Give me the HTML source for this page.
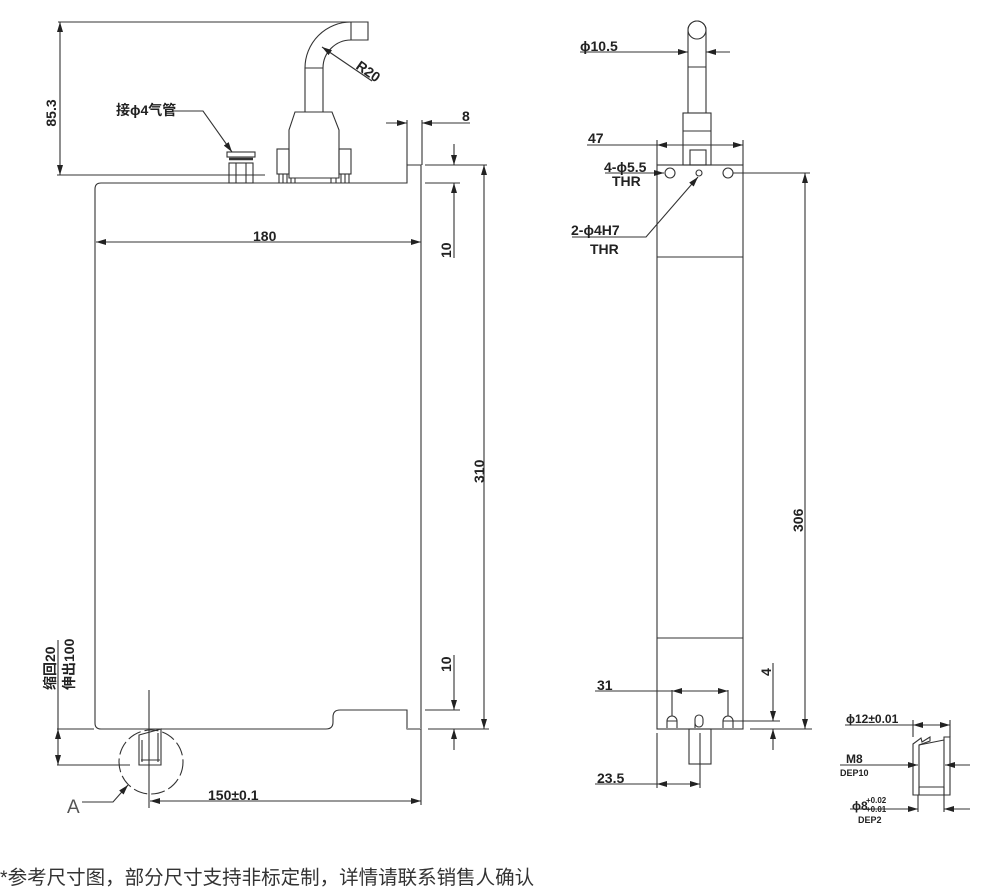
<!DOCTYPE html>
<html><head><meta charset="utf-8"><style>
html,body{margin:0;padding:0;background:#fff;}
svg{display:block;}
text{font-family:"Liberation Sans","Noto Sans CJK SC",sans-serif;fill:#222;}
</style></head><body>
<svg width="1000" height="887" viewBox="0 0 1000 887" xmlns="http://www.w3.org/2000/svg">
<defs>
<marker id="a" viewBox="0 0 10 6" refX="10" refY="3" markerWidth="11" markerHeight="6" markerUnits="userSpaceOnUse" orient="auto-start-reverse"><path d="M0,0 L10,3 L0,6 z" fill="#222"/></marker>
</defs>
<g fill="none" stroke="#333" stroke-width="1.1">
<path d="M101,183 L407,183 L407,165 L421,165 L421,183 L421,729 L407,729 L407,710 L340,710 Q333,710 333,717 L333,722 Q333,729 326,729 L101,729 Q95,729 95,723 L95,189 Q95,183 101,183 Z"/>
<line x1="407" y1="729" x2="421" y2="729" stroke="#999" stroke-width="2"/>
<path d="M305,112 L305,68 A46,46 0 0 1 351,22 L368,22 L368,40 L351,40 A28,28 0 0 0 323,68 L323,112"/>
<line x1="305" y1="68" x2="323" y2="68"/>
<line x1="351" y1="22" x2="351" y2="40"/>
<path d="M295,112 L332,112 L339,130 L339,178 L289,178 L289,130 Z"/>
<rect x="277" y="149" width="12" height="25"/>
<rect x="339" y="149" width="12" height="25"/>
<path d="M279,174 v9 M283,174 v9 M287,174 v9 M291,178 v5 M295,178 v5 M331,178 v5 M336,178 v5 M341,174 v9 M345,174 v9 M349,174 v9"/>
<rect x="229" y="163" width="24" height="20"/>
<rect x="227" y="152" width="28" height="5"/>
<line x1="229" y1="159" x2="253" y2="159" stroke-width="2.5"/>
<line x1="236" y1="163" x2="236" y2="183"/><line x1="246" y1="163" x2="246" y2="183"/>
<line x1="58" y1="22" x2="368" y2="22"/>
<line x1="57" y1="175" x2="265" y2="175"/>
<line x1="60" y1="22" x2="60" y2="175" marker-start="url(#a)" marker-end="url(#a)"/>
<polyline points="172,111 203,111 232,152" marker-end="url(#a)"/>
<line x1="372" y1="81" x2="322" y2="47" marker-end="url(#a)"/>
<line x1="407" y1="120" x2="407" y2="165"/>
<line x1="422" y1="120" x2="422" y2="165"/>
<line x1="386" y1="123" x2="407" y2="123" marker-end="url(#a)"/>
<line x1="470" y1="123" x2="422" y2="123" marker-end="url(#a)"/>
<line x1="425" y1="165" x2="487" y2="165"/>
<line x1="425" y1="183" x2="460" y2="183"/>
<line x1="454" y1="144" x2="454" y2="165" marker-end="url(#a)"/>
<line x1="454" y1="258" x2="454" y2="183" marker-end="url(#a)"/>
<line x1="484" y1="165" x2="484" y2="729" marker-start="url(#a)" marker-end="url(#a)"/>
<line x1="96" y1="242" x2="421" y2="242" marker-start="url(#a)" marker-end="url(#a)"/>
<line x1="425" y1="710" x2="460" y2="710"/>
<line x1="428" y1="729" x2="489" y2="729"/>
<line x1="454" y1="655" x2="454" y2="710" marker-end="url(#a)"/>
<line x1="454" y1="750" x2="454" y2="729" marker-end="url(#a)"/>
<line x1="57" y1="729" x2="94" y2="729"/>
<line x1="57" y1="765" x2="130" y2="765"/>
<line x1="58" y1="729" x2="58" y2="765" marker-start="url(#a)" marker-end="url(#a)"/>
<line x1="58" y1="640" x2="58" y2="729"/>
<circle cx="151" cy="762" r="32" stroke-dasharray="14,4"/>
<line x1="149" y1="690" x2="149" y2="808"/>
<path d="M139,735 L161,729 L161,765 L139,765 Z"/>
<path d="M142,740 v22 M158,733 v29 M141,760 h19"/>
<polyline points="82,802 113,802 128,785" marker-end="url(#a)"/>
<line x1="421" y1="729" x2="421" y2="805"/>
<line x1="150" y1="801" x2="421" y2="801" marker-start="url(#a)" marker-end="url(#a)"/>

<rect x="657" y="165" width="86" height="564"/>
<line x1="657" y1="257" x2="743" y2="257"/>
<line x1="657" y1="638" x2="743" y2="638"/>
<rect x="683" y="113" width="28" height="52"/>
<line x1="683" y1="131" x2="711" y2="131"/>
<rect x="690" y="150" width="16" height="15"/>
<path d="M688,113 L688,30 A9,9 0 0 1 706,30 L706,113"/>
<circle cx="697" cy="30" r="9"/>
<line x1="688" y1="67" x2="706" y2="67"/>
<circle cx="670" cy="173" r="5"/><circle cx="699" cy="173" r="3"/><circle cx="728" cy="173" r="5"/>
<path d="M667,728 v-7 a5,5 0 0 1 10,0 v7 M667,721 h10"/>
<path d="M695,728 v-9 a4,4 0 0 1 8,0 v4 a4,4 0 0 1 -8,0"/>
<path d="M723,728 v-7 a5,5 0 0 1 10,0 v7 M723,721 h10"/>
<rect x="689" y="729" width="22" height="35"/>
<line x1="580" y1="52" x2="688" y2="52" marker-end="url(#a)"/>
<line x1="730" y1="52" x2="706" y2="52" marker-end="url(#a)"/>
<line x1="657" y1="140" x2="657" y2="165"/><line x1="743" y1="140" x2="743" y2="165"/>
<line x1="587" y1="145" x2="657" y2="145"/>
<line x1="657" y1="145" x2="743" y2="145" marker-start="url(#a)" marker-end="url(#a)"/>
<line x1="605" y1="173" x2="664" y2="173" marker-end="url(#a)"/>
<polyline points="572,237 646,237 698,177" marker-end="url(#a)"/>
<line x1="733" y1="173" x2="810" y2="173"/>
<line x1="750" y1="729" x2="812" y2="729"/>
<line x1="805" y1="173" x2="805" y2="729" marker-start="url(#a)" marker-end="url(#a)"/>
<line x1="733" y1="721" x2="780" y2="721"/>
<line x1="773" y1="663" x2="773" y2="721" marker-end="url(#a)"/>
<line x1="773" y1="750" x2="773" y2="729" marker-end="url(#a)"/>
<line x1="672" y1="690" x2="672" y2="716"/><line x1="728" y1="690" x2="728" y2="716"/>
<line x1="595" y1="691" x2="672" y2="691"/>
<line x1="672" y1="691" x2="728" y2="691" marker-start="url(#a)" marker-end="url(#a)"/>
<line x1="657" y1="733" x2="657" y2="788"/><line x1="700" y1="733" x2="700" y2="788"/>
<line x1="595" y1="784" x2="657" y2="784"/>
<line x1="657" y1="784" x2="700" y2="784" marker-start="url(#a)" marker-end="url(#a)"/>
<path d="M913,744 L921,738 L922,742 L930,737 L930,741 L919,745 L919,795 L913,795 Z"/>
<path d="M944,737 L950,737 L950,795 L944,795 Z"/>
<path d="M919,745 L944,740 M919,795 L944,795 M919,787 L944,787 M919,787 V795 M944,787 V795"/>
<line x1="913" y1="720" x2="913" y2="737"/><line x1="950" y1="720" x2="950" y2="737"/>
<line x1="845" y1="725" x2="913" y2="725"/>
<line x1="913" y1="725" x2="950" y2="725" marker-start="url(#a)" marker-end="url(#a)"/>
<line x1="840" y1="765" x2="918" y2="765" marker-end="url(#a)"/>
<line x1="970" y1="765" x2="945" y2="765" marker-end="url(#a)"/>
<line x1="918" y1="795" x2="918" y2="812"/><line x1="944" y1="795" x2="944" y2="812"/>
<line x1="850" y1="809" x2="918" y2="809" marker-end="url(#a)"/>
<line x1="970" y1="809" x2="944" y2="809" marker-end="url(#a)"/>
</g>
<g font-size="14" font-weight="bold">
<text x="60" y="113" transform="rotate(-90 60 113)" text-anchor="middle" dy="-4">85.3</text>
<text x="116" y="115">接ϕ4气管</text>
<text x="355" y="68" transform="rotate(35 355 68)">R20</text>
<text x="462" y="121">8</text>
<text x="253" y="241">180</text>
<text x="451" y="258" transform="rotate(-90 451 258)">10</text>
<text x="484" y="483" transform="rotate(-90 484 483)">310</text>
<text x="451" y="672" transform="rotate(-90 451 672)">10</text>
<text x="55" y="690" transform="rotate(-90 55 690)">缩回20</text>
<text x="74" y="690" transform="rotate(-90 74 690)">伸出100</text>
<text x="67" y="813" font-size="19" font-weight="normal" style="fill:#555">A</text>
<text x="208" y="800">150±0.1</text>
<text x="580" y="51">ϕ10.5</text>
<text x="588" y="143">47</text>
<text x="604" y="172">4-ϕ5.5</text>
<text x="612" y="186">THR</text>
<text x="571" y="235">2-ϕ4H7</text>
<text x="590" y="254">THR</text>
<text x="803" y="532" transform="rotate(-90 803 532)">306</text>
<text x="771" y="676" transform="rotate(-90 771 676)">4</text>
<text x="597" y="690">31</text>
<text x="597" y="783">23.5</text>
<text x="846" y="723" font-size="12">ϕ12±0.01</text>
<text x="846" y="763" font-size="12">M8</text>
<text x="840" y="776" font-size="9">DEP10</text>
<text x="852" y="810" font-size="12">ϕ8</text>
<text x="866" y="803" font-size="8">+0.02</text>
<text x="866" y="812" font-size="8">+0.01</text>
<text x="858" y="823" font-size="9">DEP2</text>
</g>
<text x="0" y="884" font-size="19.5" style="fill:#333">*参考尺寸图，部分尺寸支持非标定制，详情请联系销售人确认</text>
</svg>
</body></html>
